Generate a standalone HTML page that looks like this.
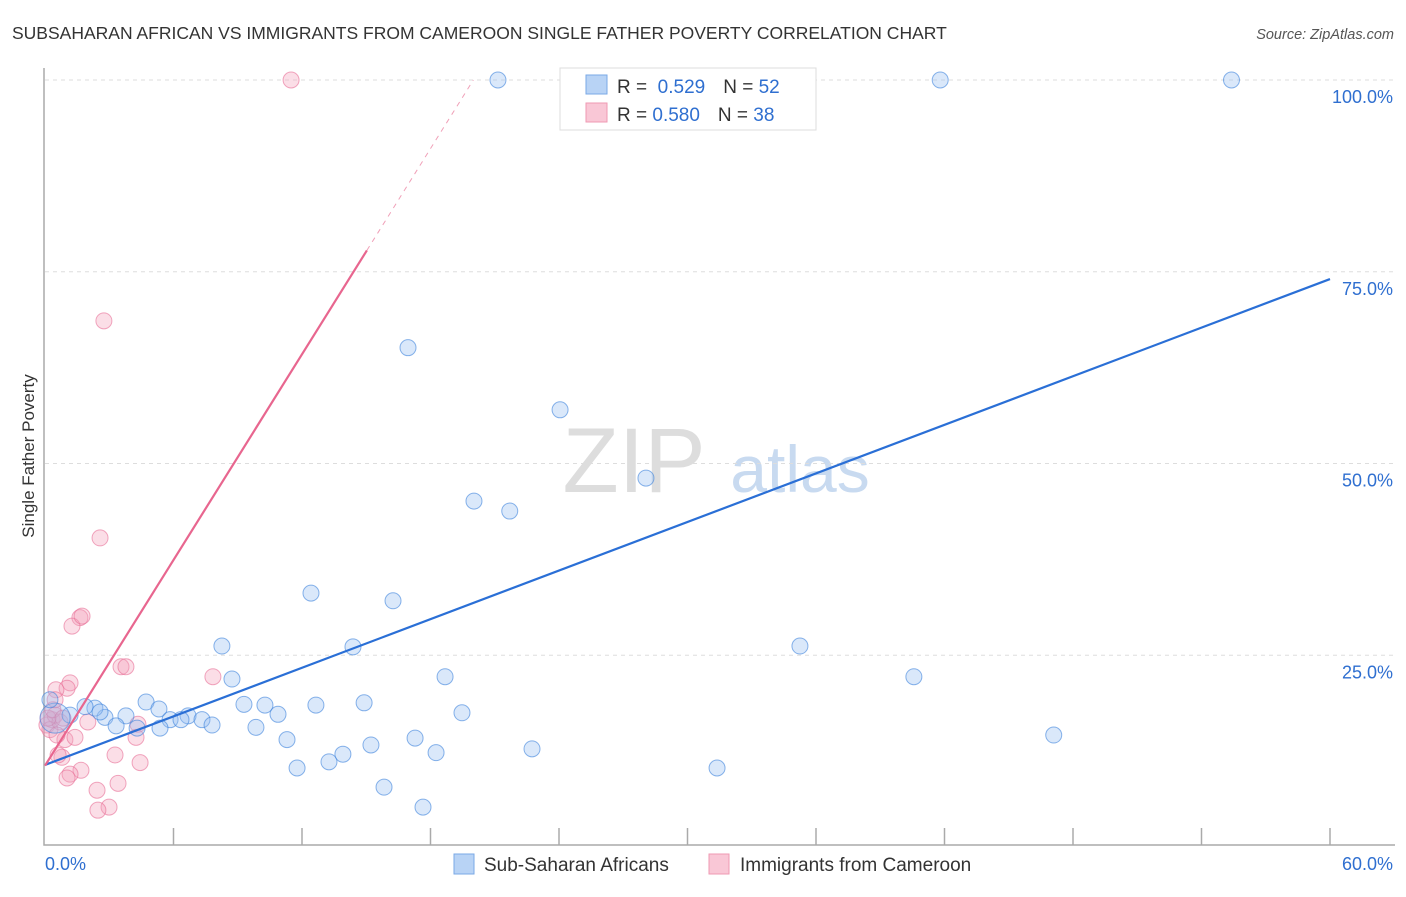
<!DOCTYPE html>
<html><head><meta charset="utf-8"><style>
body{margin:0;background:#fff;font-family:"Liberation Sans",sans-serif}
svg text{font-family:"Liberation Sans",sans-serif}
</style></head><body>
<svg id="chart" width="1406" height="892">
<text x="12" y="39" font-size="17.5" fill="#333">SUBSAHARAN AFRICAN VS IMMIGRANTS FROM CAMEROON SINGLE FATHER POVERTY CORRELATION CHART</text>
<text x="1394" y="39" font-size="14.5" fill="#555" font-style="italic" text-anchor="end">Source: ZipAtlas.com</text>
<text x="634" y="492" font-size="92" fill="#ddd" font-family="Liberation Serif" text-anchor="middle">ZIP</text>
<text x="800" y="492" font-size="66" fill="#c8daf0" text-anchor="middle">atlas</text>
<text transform="translate(34,456) rotate(-90)" font-size="17" fill="#333" text-anchor="middle">Single Father Poverty</text>
<g id="grid"></g><g id="axes"></g><g id="pts"></g><g id="lines"></g>
<g>
<rect x="560" y="68" width="256" height="62" fill="#fff" stroke="#ddd"/>
<rect x="586" y="75" width="21" height="19" fill="#b8d3f5" stroke="#7aa8e6"/>
<rect x="586" y="103" width="21" height="19" fill="#f9c7d6" stroke="#ef9ab3"/>
<text x="617" y="93" font-size="19" fill="#333">R = <tspan fill="#2f6fd0">&#160;0.529</tspan><tspan dx="18">N = </tspan><tspan fill="#2f6fd0">52</tspan></text>
<text x="617" y="121" font-size="19" fill="#333">R = <tspan fill="#2f6fd0">0.580</tspan><tspan dx="18">N = </tspan><tspan fill="#2f6fd0">38</tspan></text>
</g>
<g>
<rect x="454" y="854" width="20" height="20" fill="#b8d3f5" stroke="#7aa8e6"/>
<text x="484" y="871" font-size="19" fill="#333">Sub-Saharan Africans</text>
<rect x="709" y="854" width="20" height="20" fill="#f9c7d6" stroke="#ef9ab3"/>
<text x="740" y="871" font-size="19" fill="#333">Immigrants from Cameroon</text>
</g>
</svg>
<script>
const blueX=[21.15,41.8,55.4,25.9,16.95,24.05,28.06,20.03,21.7,12.42,16.25,8.26,14.38,35.25,40.57,8.73,18.68,4.72,5.32,9.29,10.27,12.65,14.9,6.68,5.84,6.35,7.33,7.8,9.85,10.88,19.47,3.78,2.8,2.33,1.87,1.17,0.47,0.23,3.32,4.3,11.3,17.28,15.22,13.91,22.74,18.26,47.1,11.77,13.26,31.38,15.83,17.65,2.57,5.37];
const blueY=[100,100,100,100,65.1,57.0,48.1,45.1,43.8,33.1,32.1,26.2,26.1,26.2,22.2,21.9,22.2,18.9,18.0,18.6,18.5,18.5,18.8,17.1,16.6,16.6,16.6,15.9,15.6,17.3,17.5,17.1,16.9,18.1,18.3,17.2,16.8,19.2,15.8,15.5,14.0,14.2,13.3,12.1,12.8,12.3,14.6,10.3,11.1,10.3,7.8,5.2,17.6,15.5];
const blueR=[8,8,8,8,8,8,8,8,8,8,8,8,8,8,8,8,8,8,8,8,8,8,8,8,8,8,8,8,8,8,8,8,8,8,8,8,15,8,8,8,8,8,8,8,8,8,8,8,8,8,8,8,8,8];
const pinkX=[11.49,2.75,2.57,1.63,1.26,1.73,3.55,3.78,7.84,1.17,1.03,0.51,0.33,0.09,0.23,0.47,0.7,0.93,0.79,0.61,1.4,2.0,4.34,4.25,3.27,4.44,1.68,1.17,1.03,3.41,2.43,2.99,2.47,0.56,0.14,0.37,0.84,0.47];
const pinkY=[100,68.6,40.3,29.9,28.8,30.1,23.5,23.5,22.2,21.4,20.7,20.5,16.6,15.9,15.3,17.2,16.3,14.0,11.7,12.0,14.3,16.3,16.0,14.3,12.0,11.0,10.0,9.5,9.0,8.3,7.4,5.2,4.8,14.6,16.8,17.9,16.8,19.2];
const blueTrend=[10.7,74.05];
const pinkTrend=[10.6,4.47];
const yTicks=[25,50,75,100];
const xTicks=[0,6,12,18,24,30,36,42,48,54,60];
const NS="http://www.w3.org/2000/svg";
const sx=v=>45+v/60*1285, sy=v=>847-v*7.67;
function mk(t,a,p){const e=document.createElementNS(NS,t);for(const k in a)e.setAttribute(k,a[k]);p.appendChild(e);return e;}
const grid=document.getElementById('grid'),axes=document.getElementById('axes'),pts=document.getElementById('pts'),lines=document.getElementById('lines');
yTicks.forEach(t=>{
 const l=mk('line',{x1:45,x2:1395,y1:sy(t),y2:sy(t),stroke:'#ddd','stroke-dasharray':'4,4'},grid);
 
 
 const tx=mk('text',{x:1393,y:sy(t)+23,'font-size':18,fill:'#2f6fd0','text-anchor':'end'},axes);
 tx.textContent=t.toFixed(1)+'%';
 
 
});
const ax=mk('path',{d:'M44,68 V845 H1395',fill:'none',stroke:'#aaa','stroke-width':1.5},axes);


xTicks.forEach((t,i)=>{
 if(i===0)return;
 const l=mk('line',{x1:sx(t),x2:sx(t),y1:828,y2:845,stroke:'#aaa','stroke-width':1.5},axes);
 
 
});
const x0=mk('text',{x:45,y:870,'font-size':18,fill:'#2f6fd0'},axes);x0.textContent='0.0%';


const x1=mk('text',{x:1393,y:870,'font-size':18,fill:'#2f6fd0','text-anchor':'end'},axes);x1.textContent='60.0%';


pinkX.forEach((v,i)=>{
 const c=mk('circle',{cx:sx(v),cy:sy(pinkY[i]),r:8,fill:'rgba(244,160,186,0.35)',stroke:'rgba(232,110,150,0.6)','stroke-width':1},pts);
 
 
});
blueX.forEach((v,i)=>{
 const c=mk('circle',{cx:sx(v),cy:sy(blueY[i]),r:blueR[i],fill:'rgba(150,190,240,0.35)',stroke:'rgba(60,130,220,0.6)','stroke-width':1},pts);
 
 
});
const bl=mk('line',{x1:sx(0),y1:sy(blueTrend[0]),x2:sx(60),y2:sy(blueTrend[1]),stroke:'#2a6fd6','stroke-width':2.2},lines);


const pxEnd=15.03, pxTop=(100-pinkTrend[0])/pinkTrend[1];
const pl=mk('line',{x1:sx(0),y1:sy(pinkTrend[0]),x2:sx(pxEnd),y2:sy(pinkTrend[0]+pinkTrend[1]*pxEnd),stroke:'#e8668f','stroke-width':2.2},lines);


const pd=mk('line',{x1:sx(pxEnd),y1:sy(pinkTrend[0]+pinkTrend[1]*pxEnd),x2:sx(pxTop),y2:sy(100),stroke:'#f0a0b8','stroke-width':1,'stroke-dasharray':'5,5'},lines);


</script>
</body></html>
